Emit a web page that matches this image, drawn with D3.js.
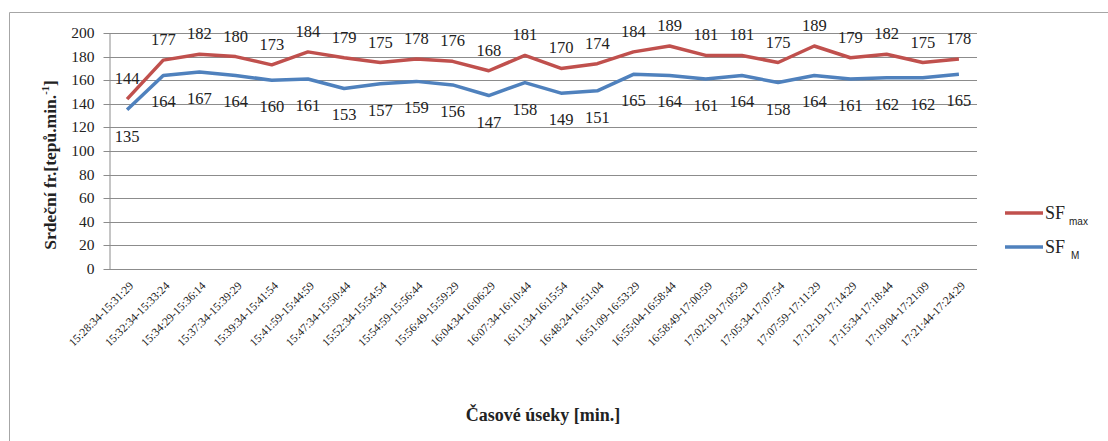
<!DOCTYPE html>
<html><head><meta charset="utf-8">
<script src="https://cdn.jsdelivr.net/npm/d3@7"></script>
<style>
body{margin:0;background:#fff;} svg{display:block;}
.sr{font-family:"Liberation Serif","Times New Roman",Times,"DejaVu Serif",serif;}
.sa{font-family:"Liberation Sans",Arial,sans-serif;}
</style>
</head><body>
<svg id="c" width="1108" height="441"></svg>
<script>
const categories = ["15:28:34-15:31:29","15:32:34-15:33:24","15:34:29-15:36:14","15:37:34-15:39:29","15:39:34-15:41:54","15:41:59-15:44:59","15:47:34-15:50:44","15:52:34-15:54:54","15:54:59-15:56:44","15:56:49-15:59:29","16:04:34-16:06:29","16:07:34-16:10:44","16:11:34-16:15:54","16:48:24-16:51:04","16:51:09-16:53:29","16:55:04-16:58:44","16:58:49-17:00:59","17:02:19-17:05:29","17:05:34-17:07:54","17:07:59-17:11:29","17:12:19-17:14:29","17:15:34-17:18:44","17:19:04-17:21:09","17:21:44-17:24:29"];
const sfMax = [144,177,182,180,173,184,179,175,178,176,168,181,170,174,184,189,181,181,175,189,179,182,175,178];
const sfM = [135,164,167,164,160,161,153,157,159,156,147,158,149,151,165,164,161,164,158,164,161,162,162,165];
const yTicks = [0,20,40,60,80,100,120,140,160,180,200];

const svg = d3.select("#c");
const red = "#C0504D", blue = "#4F81BD";

svg.append("path").attr("d","M9.5,441 V12.5 H1120").attr("fill","none").attr("stroke","#a6a6a6").attr("stroke-width",1);

const L = 109, R = 977, T = 33, B = 269;
const x = d3.scaleBand().domain(categories).range([L,R]);
const y = d3.scaleLinear().domain([0,200]).range([B,T]);

svg.append("g").selectAll("line").data(yTicks.filter(d=>d>0)).join("line")
  .attr("x1",L).attr("x2",R).attr("y1",d=>Math.round(y(d))+0.5).attr("y2",d=>Math.round(y(d))+0.5)
  .attr("stroke","#8c8c8c").attr("stroke-width",1);

const ya = svg.append("g").attr("transform",`translate(${L+0.5},0)`)
  .call(d3.axisLeft(y).tickValues(yTicks).tickSize(6).tickSizeOuter(0).tickPadding(9));
ya.attr("font-family",null).attr("font-size",null);
ya.select(".domain").attr("stroke","#8c8c8c");
ya.selectAll(".tick line").attr("stroke","#8c8c8c");
ya.selectAll(".tick text").attr("class","sr").style("font-size","15.5px").attr("fill","#222");
ya.selectAll(".tick").attr("transform",d=>`translate(0,${Math.round(y(d))+0.5})`);

const xa = svg.append("g").attr("transform",`translate(0,${B+0.5})`)
  .call(d3.axisBottom(x).tickSize(0).tickSizeOuter(0));
xa.attr("font-family",null).attr("font-size",null);
xa.select(".domain").attr("stroke","#8c8c8c").attr("d",`M${L},0H${R}`);
xa.selectAll(".tick text").attr("class","sr").style("font-size","11.5px").attr("fill","#222")
  .attr("text-anchor","end").attr("dy","0").attr("y",0)
  .attr("transform","translate(7,17) rotate(-45)");

const cx = d => x(d) + x.bandwidth()/2;
const line = d3.line().x((d,i)=>cx(categories[i])).y(d=>y(d));

svg.append("path").datum(sfMax).attr("d",line).attr("fill","none").attr("stroke",red).attr("stroke-width",3.5).attr("stroke-linejoin","round");
svg.append("path").datum(sfM).attr("d",line).attr("fill","none").attr("stroke",blue).attr("stroke-width",3.5).attr("stroke-linejoin","round");

svg.append("g").selectAll("text").data(sfMax).join("text").attr("class","sr")
  .attr("x",(d,i)=>cx(categories[i])).attr("y",d=>y(d)-15)
  .attr("text-anchor","middle").style("font-size","16.5px").attr("fill","#222").text(d=>d);
svg.append("g").selectAll("text").data(sfM).join("text").attr("class","sr")
  .attr("x",(d,i)=>cx(categories[i])).attr("y",d=>y(d)+32)
  .attr("text-anchor","middle").style("font-size","16.5px").attr("fill","#222").text(d=>d);

const yt = svg.append("text").attr("class","sr").attr("transform","translate(56,165) rotate(-90)")
  .attr("text-anchor","middle").style("font-size","17.5px").attr("font-weight","bold").attr("fill","#222");
yt.append("tspan").text("Srdeční fr.[tepů.min.");
yt.append("tspan").style("font-size","10.5px").attr("dy","-7").text("-1");
yt.append("tspan").attr("dy","7").text("]");

svg.append("text").attr("class","sr").attr("x",543).attr("y",421).attr("text-anchor","middle")
  .style("font-size","18px").attr("font-weight","bold").attr("fill","#222")
  .text("Časové úseky [min.]");

const leg = [{c:red,sub:"max",y:213},{c:blue,sub:"M",y:247}];
leg.forEach(l=>{
  svg.append("line").attr("x1",1005).attr("x2",1043).attr("y1",l.y).attr("y2",l.y).attr("stroke",l.c).attr("stroke-width",3.5);
  const t = svg.append("text").attr("class","sr").attr("x",1045).attr("y",l.y+6).style("font-size","18px").attr("fill","#222");
  t.append("tspan").text("SF");
  t.append("tspan").attr("class","sa").style("font-size","10px").attr("dx", l.sub==="M"?6:4).attr("dy","6").text(l.sub);
});
</script>
</body></html>
